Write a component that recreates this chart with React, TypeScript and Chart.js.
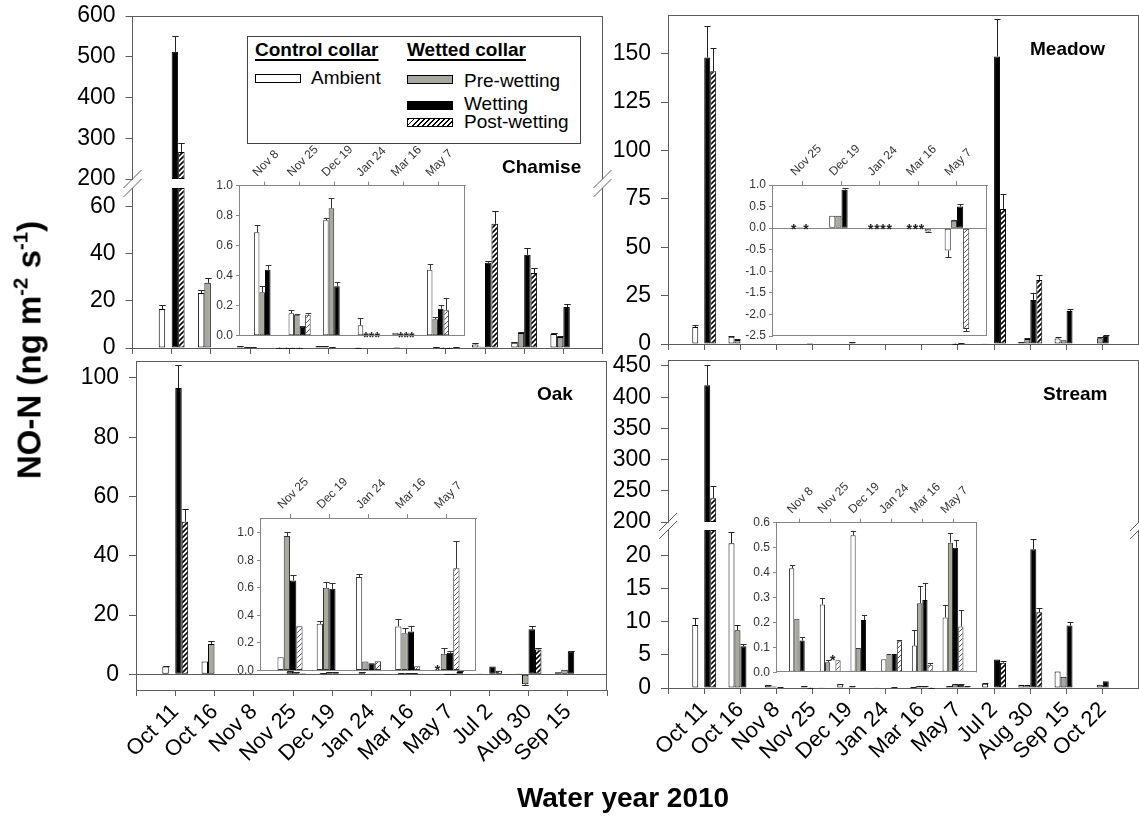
import React, { useEffect, useRef } from 'react';
import { Chart, registerables } from 'chart.js';

Chart.register(...registerables);

const FONT = "'Liberation Sans', Arial, Helvetica, sans-serif";
Chart.defaults.font.family = FONT;
Chart.defaults.color = '#000';

const AXIS = '#5c5c5c';
const INSET_AXIS = '#858585';
const PRE_GREY = '#a8a89e';

type Num = number | null;

// ---------------- sampling dates ----------------
const datesWY = ['Oct 11', 'Oct 16', 'Nov 8', 'Nov 25', 'Dec 19', 'Jan 24', 'Mar 16', 'May 7', 'Jul 2', 'Aug 30', 'Sep 15'];
const datesWYExt = [...datesWY, 'Oct 22'];

// ---------------- Chamise (ng m-2 s-1) ----------------
const chamiseAmbient: Num[] = [16.6, 23.4, 0.69, 0.15, 0.77, 0.07, 0.02, 0.44, 1.5, 2.2, 6.0];
const chamiseAmbientErr: Num[] = [1.7, 1.3, 0.05, 0.02, 0.015, 0.05, 0, 0.04, 0.6, 0.5, 0.3];
const chamisePre: Num[] = [null, 27.7, 0.29, 0.14, 0.85, null, null, 0.11, 0.5, 6.4, 4.7];
const chamisePreErr: Num[] = [null, 2.1, 0.04, 0.005, 0.07, null, null, 0.016, 0, 0.3, 0.3];
const chamiseWet: Num[] = [512, null, 0.44, 0.06, 0.33, null, null, 0.18, 36.2, 39.6, 17.4];
const chamiseWetErr: Num[] = [39, null, 0.03, 0.005, 0.03, null, null, 0.025, 0.7, 2.9, 1.1];
const chamisePost: Num[] = [266.5, null, null, 0.14, null, null, null, 0.17, 52.8, 31.9, null];
const chamisePostErr: Num[] = [21.5, null, null, 0.01, null, null, null, 0.08, 5.5, 2.1, null];
const chamiseUpperTicks = [200, 300, 400, 500, 600];
const chamiseLowerTicks = [0, 20, 40, 60];

// ---------------- Meadow ----------------
const meadowAmbient: Num[] = [8.8, 3.8, null, null, 0.29, null, null, -0.52, 0.15, 0.9, 2.9, null];
const meadowAmbientErr: Num[] = [0.9, 0.5, null, null, 0, null, null, 0.14, 0, 0.2, 0.5, null];
const meadowPre: Num[] = [null, 2.1, null, 0.02, 0.29, null, null, 0.17, null, 2.6, 1.9, 3.0];
const meadowPreErr: Num[] = [null, 0.3, null, 0, 0, null, null, 0.03, null, 0.3, 0, 0.5];
const meadowWet: Num[] = [148, null, null, null, 0.89, null, null, 0.5, 148.6, 22.8, 17.1, 4.2];
const meadowWetErr: Num[] = [16.5, null, null, null, 0.04, null, null, 0.07, 19.5, 3.4, 0.9, 0.3];
const meadowPost: Num[] = [140.9, null, null, null, null, null, -0.08, -2.34, 69.7, 33.1, null, null];
const meadowPostErr: Num[] = [12.1, null, null, null, null, null, 0.02, 0.04, 7.9, 2.4, null, null];
const meadowTicks = [0, 25, 50, 75, 100, 125, 150];

// ---------------- Oak ----------------
const oakAmbient: Num[] = [2.6, 4.3, null, 0.097, 0.339, 0.678, 0.32, null, 0.1, 0.1, 0.7];
const oakAmbientErr: Num[] = [0.3, 0, null, 0, 0.02, 0.02, 0.055, null, 0, 0, 0];
const oakPre: Num[] = [null, 10.2, null, 0.976, 0.6, 0.065, 0.271, 0.121, null, -3.4, 1.5];
const oakPreErr: Num[] = [null, 1.0, null, 0.03, 0.042, 0, 0.036, 0.044, null, 0.3, 0];
const oakWet: Num[] = [96.6, null, null, 0.654, 0.593, 0.053, 0.283, 0.128, 2.6, 15.2, 7.6];
const oakWetErr: Num[] = [7.9, null, null, 0.036, 0.041, 0, 0.037, 0.017, 0, 1.1, 0.2];
const oakPost: Num[] = [51.5, null, null, 0.322, null, 0.068, 0.031, 0.743, 1.2, 8.4, null];
const oakPostErr: Num[] = [4.1, null, null, 0, null, 0, 0, 0.2, 0, 0.4, null];
const oakTicks = [0, 20, 40, 60, 80, 100];

// ---------------- Stream ----------------
const streamAmbient: Num[] = [9.5, 21.8, 0.417, 0.272, 0.55, 0.052, 0.107, 0.22, 0.65, 0.45, 2.5, null];
const streamAmbientErr: Num[] = [1.0, 1.7, 0.014, 0.028, 0.017, 0, 0.063, 0.05, 0.1, 0, 0, null];
const streamPre: Num[] = [null, 8.7, 0.215, 0.04, 0.097, 0.073, 0.277, 0.52, null, 0.45, 1.7, 0.5];
const streamPreErr: Num[] = [null, 0.8, 0, 0.01, 0, 0, 0.07, 0.04, null, 0, 0, 0];
const streamWet: Num[] = [419, 6.3, 0.128, null, 0.21, 0.073, 0.29, 0.5, 4.3, 20.9, 9.4, 1.0];
const streamWetErr: Num[] = [33, 0.4, 0.013, null, 0.02, 0, 0.07, 0.032, 0, 1.5, 0.6, 0];
const streamPost: Num[] = [238, null, null, 0.048, null, 0.125, 0.03, 0.184, 3.8, 11.4, null, null];
const streamPostErr: Num[] = [19, null, null, 0, null, 0.005, 0.006, 0.066, 0.3, 0.7, null, null];
const streamUpperTicks = [200, 250, 300, 350, 400, 450];
const streamLowerTicks = [0, 5, 10, 15, 20];

// ---------------- insets (low-flux dates) ----------------
const chamiseInsetDates = ['Nov 8', 'Nov 25', 'Dec 19', 'Jan 24', 'Mar 16', 'May 7'];
const chamiseInAmbient: Num[] = [0.69, 0.15, 0.77, 0.07, 0.02, 0.44];
const chamiseInAmbientErr: Num[] = [0.05, 0.02, 0.015, 0.05, 0, 0.04];
const chamiseInPre: Num[] = [0.29, 0.14, 0.85, null, null, 0.11];
const chamiseInPreErr: Num[] = [0.04, 0.005, 0.07, null, null, 0.016];
const chamiseInWet: Num[] = [0.44, 0.06, 0.33, null, null, 0.18];
const chamiseInWetErr: Num[] = [0.03, 0.005, 0.03, null, null, 0.025];
const chamiseInPost: Num[] = [null, 0.14, null, null, null, 0.17];
const chamiseInPostErr: Num[] = [null, 0.01, null, null, null, 0.08];
const chamiseInBelowDetection = [[3, 1, 0], [3, 2, 0], [3, 3, 0], [4, 1, 0], [4, 2, 0], [4, 3, 0]];
const chamiseInTicks = [0, 0.2, 0.4, 0.6, 0.8, 1.0];

const meadowInsetDates = ['Nov 25', 'Dec 19', 'Jan 24', 'Mar 16', 'May 7'];
const meadowInAmbient: Num[] = [null, 0.29, null, null, -0.52];
const meadowInAmbientErr: Num[] = [null, 0, null, null, 0.14];
const meadowInPre: Num[] = [0.02, 0.29, null, null, 0.17];
const meadowInPreErr: Num[] = [null, 0, null, null, 0.03];
const meadowInWet: Num[] = [null, 0.89, null, null, 0.5];
const meadowInWetErr: Num[] = [null, 0.04, null, null, 0.07];
const meadowInPost: Num[] = [null, null, null, -0.08, -2.34];
const meadowInPostErr: Num[] = [null, null, null, 0.02, 0.04];
const meadowInBelowDetection = [[0, 0, 0], [0, 2, 0], [2, 0, 0], [2, 1, 0], [2, 2, 0], [2, 3, 0], [3, 0, 0], [3, 1, 0], [3, 2, 0]];
const meadowInTicks = [-2.5, -2, -1.5, -1, -0.5, 0, 0.5, 1];

const oakInsetDates = ['Nov 25', 'Dec 19', 'Jan 24', 'Mar 16', 'May 7'];
const oakInAmbient: Num[] = [0.097, 0.339, 0.678, 0.32, null];
const oakInAmbientErr: Num[] = [0, 0.02, 0.02, 0.055, null];
const oakInPre: Num[] = [0.976, 0.6, 0.065, 0.271, 0.121];
const oakInPreErr: Num[] = [0.03, 0.042, 0, 0.036, 0.044];
const oakInWet: Num[] = [0.654, 0.593, 0.053, 0.283, 0.128];
const oakInWetErr: Num[] = [0.036, 0.041, 0, 0.037, 0.017];
const oakInPost: Num[] = [0.322, null, 0.068, 0.031, 0.743];
const oakInPostErr: Num[] = [0, null, 0, 0, 0.2];
const oakInBelowDetection = [[4, 0, 0.015]];
const oakInTicks = [0, 0.2, 0.4, 0.6, 0.8, 1.0];

const streamInsetDates = ['Nov 8', 'Nov 25', 'Dec 19', 'Jan 24', 'Mar 16', 'May 7'];
const streamInAmbient: Num[] = [0.417, 0.272, 0.55, 0.052, 0.107, 0.22];
const streamInAmbientErr: Num[] = [0.014, 0.028, 0.017, 0, 0.063, 0.05];
const streamInPre: Num[] = [0.215, 0.04, 0.097, 0.073, 0.277, 0.52];
const streamInPreErr: Num[] = [0, 0.01, 0, 0, 0.07, 0.04];
const streamInWet: Num[] = [0.128, null, 0.21, 0.073, 0.29, 0.5];
const streamInWetErr: Num[] = [0.013, null, 0.02, 0, 0.07, 0.032];
const streamInPost: Num[] = [null, 0.048, null, 0.125, 0.03, 0.184];
const streamInPostErr: Num[] = [null, 0, null, 0.005, 0.006, 0.066];
const streamInBelowDetection = [[1, 2, 0.055]];
const streamInTicks = [0, 0.1, 0.2, 0.3, 0.4, 0.5, 0.6];

const SERIES = ['Ambient', 'Pre-wetting', 'Wetting', 'Post-wetting'];
const STACKS = ['amb', 'pre', 'wet', 'post'];

interface Seg { min: number; max: number; ticks: number[]; px?: number }
interface Panel {
  cats: string[];
  xMin: number;
  xMax: number;
  edgeTicks: boolean;
  series: [Num[], Num[]][];
  lower: Seg;
  upper?: Seg;
  gapPx?: number;
  yWidth: number;
  xHeight: number;
  pad: { top: number; right: number; bottom: number };
  inset: boolean;
  showX: boolean;
  zeroLine?: boolean;
  frame: { top?: boolean; right?: boolean; bottom?: boolean };
  stars?: number[][];
  catPct: number;
}

function range(a: number, b: number) {
  const out: number[] = [];
  for (let i = a; i <= b; i++) out.push(i);
  return out;
}

function hatchPattern(ctx: CanvasRenderingContext2D, color: string, lw: number, size: number) {
  const tile = document.createElement('canvas');
  tile.width = size;
  tile.height = size;
  const g = tile.getContext('2d')!;
  g.fillStyle = '#fff';
  g.fillRect(0, 0, size, size);
  g.strokeStyle = color;
  g.lineWidth = lw;
  g.beginPath();
  g.moveTo(0, size);
  g.lineTo(size, 0);
  g.moveTo(-1, 1);
  g.lineTo(1, -1);
  g.moveTo(size - 1, size + 1);
  g.lineTo(size + 1, size - 1);
  g.stroke();
  return ctx.createPattern(tile, 'repeat')!;
}

// error bars, "below detection" asterisks, frame lines and axis breaks
function makeDecor(p: Panel, axisColor: string) {
  const starSize = 14;
  return {
    id: 'decor',
    beforeDraw(chart: any) {
      if (!p.inset) return;
      const { ctx, chartArea: a } = chart;
      ctx.save();
      ctx.fillStyle = '#fff';
      ctx.fillRect(a.left, a.top, a.right - a.left, a.bottom - a.top);
      ctx.restore();
    },
    afterDatasetsDraw(chart: any) {
      const { ctx } = chart;
      ctx.save();
      ctx.strokeStyle = p.inset ? '#333' : '#222';
      ctx.lineWidth = 1;
      chart.data.datasets.forEach((ds: any, di: number) => {
        const meta = chart.getDatasetMeta(di);
        const ys = chart.scales[meta.yAxisID];
        ds.vals.forEach((v: Num, i: number) => {
          const e = ds.errs[i];
          if (v == null || !e) return;
          if (v > ys.max || v < ys.min) return;
          if (meta.yAxisID === 'yTop' && v <= ys.min) return;
          const el = meta.data[i];
          if (!el) return;
          const y0 = ys.getPixelForValue(v);
          const y1 = Math.round(ys.getPixelForValue(v >= 0 ? v + e : v - e)) + 0.5;
          const x = Math.round(el.x) + 0.5;
          const h = el.width / 2;
          ctx.beginPath();
          ctx.moveTo(x, y0);
          ctx.lineTo(x, y1);
          ctx.moveTo(x - h, y1);
          ctx.lineTo(x + h, y1);
          ctx.stroke();
        });
      });
      ctx.fillStyle = '#222';
      ctx.textAlign = 'center';
      ctx.textBaseline = 'alphabetic';
      ctx.font = `bold ${starSize}px ${FONT}`;
      (p.stars || []).forEach(([c, s, lvl]) => {
        const meta = chart.getDatasetMeta(s);
        const el = meta.data[c];
        const ys = chart.scales[meta.yAxisID];
        const y = ys.getPixelForValue(lvl || 0);
        ctx.fillText('*', el.x, y + 0.45 * starSize);
      });
      ctx.restore();
    },
    afterDraw(chart: any) {
      const { ctx, chartArea: a } = chart;
      ctx.save();
      ctx.strokeStyle = axisColor;
      ctx.lineWidth = 1;
      const gap = p.upper ? [chart.scales.yTop.bottom, chart.scales.yBot.top] : null;
      ctx.beginPath();
      if (p.frame.top) {
        ctx.moveTo(a.left, Math.round(a.top) + 0.5);
        ctx.lineTo(a.right, Math.round(a.top) + 0.5);
      }
      if (p.frame.bottom) {
        ctx.moveTo(a.left, Math.round(a.bottom) - 0.5);
        ctx.lineTo(a.right, Math.round(a.bottom) - 0.5);
      }
      if (p.frame.right) {
        const x = Math.round(a.right) - 0.5;
        if (gap) {
          ctx.moveTo(x, a.top);
          ctx.lineTo(x, gap[0]);
          ctx.moveTo(x, gap[1]);
          ctx.lineTo(x, a.bottom);
        } else {
          ctx.moveTo(x, a.top);
          ctx.lineTo(x, a.bottom);
        }
      }
      ctx.stroke();
      if (gap) {
        ctx.beginPath();
        [a.left, a.right].forEach((x: number) =>
          gap.forEach((y: number) => {
            ctx.moveTo(x - 9, y + 9);
            ctx.lineTo(x + 9, y - 9);
          })
        );
        ctx.stroke();
      }
      ctx.restore();
    },
  };
}

function buildConfig(p: Panel, ctx: CanvasRenderingContext2D): any {
  const axisColor = p.inset ? INSET_AXIS : AXIS;
  const tickColor = p.inset ? '#333' : '#000';
  const yFont = { size: p.inset ? 12 : 23 };
  const xFont = { size: p.inset ? 12 : 22 };
  const post = hatchPattern(ctx, p.inset ? '#555' : '#000', p.inset ? 1 : 1.6, 5);
  const fills = ['#fff', PRE_GREY, '#000', post];
  const edge = p.inset ? '#333' : '#000';
  const fmt = (v: number) => (p.inset ? Number(v).toFixed(1) : String(v));

  const datasets: any[] = [];
  p.series.forEach(([vals, errs], k) => {
    const base = {
      type: 'bar',
      label: SERIES[k],
      vals,
      errs,
      backgroundColor: fills[k],
      borderColor: k === 2 ? '#000' : edge,
      borderWidth: 1,
      borderSkipped: false,
      categoryPercentage: p.catPct,
      barPercentage: 1,
      stack: STACKS[k],
    };
    if (p.upper) {
      const lo = p.lower.max;
      const hi = p.upper.min;
      datasets.push({
        ...base,
        yAxisID: 'yBot',
        data: vals.map((v, i) => ({ x: i + 1, y: v == null ? null : [0, Math.min(v, lo)] })),
      });
      datasets.push({
        ...base,
        yAxisID: 'yTop',
        data: vals.map((v, i) => ({ x: i + 1, y: v != null && v > hi ? [hi, v] : null })),
      });
    } else {
      datasets.push({ ...base, yAxisID: 'y', data: vals.map((v, i) => ({ x: i + 1, y: v })) });
    }
  });

  const yScale = (seg: Seg, extra: any = {}) => ({
    type: 'linear',
    position: 'left',
    min: seg.min,
    max: seg.max,
    bounds: 'data',
    stacked: false,
    afterBuildTicks: (s: any) => {
      s.ticks = seg.ticks.map((v) => ({ value: v }));
    },
    afterFit: (s: any) => {
      s.width = p.yWidth;
      s.paddingTop = 0;
      s.paddingBottom = 0;
    },
    grid: {
      drawOnChartArea: !!p.zeroLine,
      drawTicks: true,
      tickLength: p.inset ? 3 : 7,
      lineWidth: 1,
      color: (c: any) => (p.zeroLine && c.tick && c.tick.value === 0 ? axisColor : 'rgba(0,0,0,0)'),
      tickColor: axisColor,
    },
    border: { display: true, color: axisColor, width: 1 },
    ticks: {
      autoSkip: false,
      color: tickColor,
      font: yFont,
      padding: p.inset ? 3 : 10,
      callback: (v: number) => fmt(v),
    },
    ...extra,
  });

  const n = p.cats.length;
  const xTicks = p.edgeTicks ? range(0, n + 1) : range(1, n);
  const scales: any = {
    x: {
      type: 'linear',
      position: p.inset ? 'top' : 'bottom',
      min: p.xMin,
      max: p.xMax,
      bounds: 'data',
      offset: false,
      afterBuildTicks: (s: any) => {
        s.ticks = xTicks.map((v) => ({ value: v }));
      },
      afterFit: (s: any) => {
        s.height = p.xHeight;
        s.paddingLeft = 0;
        s.paddingRight = 0;
      },
      grid: {
        offset: false,
        drawOnChartArea: false,
        drawTicks: true,
        tickLength: p.inset ? 4 : 6,
        color: axisColor,
        tickColor: axisColor,
      },
      border: { display: true, color: axisColor },
      ticks: {
        display: p.showX,
        autoSkip: false,
        minRotation: 45,
        maxRotation: 45,
        color: tickColor,
        font: xFont,
        padding: p.inset ? 2 : 3,
        callback: (v: number) => p.cats[v - 1] ?? '',
      },
    },
  };
  if (p.upper) {
    scales.yTop = yScale(p.upper, { stack: 'v', stackWeight: p.upper.px, weight: 3 });
    scales.yGap = {
      type: 'linear',
      position: 'left',
      stack: 'v',
      stackWeight: p.gapPx,
      weight: 2,
      min: 0,
      max: 1,
      grid: { display: false },
      border: { display: false },
      ticks: { display: false },
      afterFit: (s: any) => {
        s.width = p.yWidth;
        s.paddingTop = 0;
        s.paddingBottom = 0;
      },
    };
    scales.yBot = yScale(p.lower, { stack: 'v', stackWeight: p.lower.px, weight: 1 });
  } else {
    scales.y = yScale(p.lower);
  }

  return {
    type: 'bar',
    data: { datasets },
    plugins: [makeDecor(p, axisColor)],
    options: {
      responsive: false,
      maintainAspectRatio: false,
      animation: false,
      devicePixelRatio: 1,
      events: [],
      layout: { padding: { left: 0, top: p.pad.top, right: p.pad.right, bottom: p.pad.bottom } },
      plugins: { legend: { display: false }, tooltip: { enabled: false } },
      scales,
    },
  };
}

// ---------------- panel definitions ----------------
const chamisePanel: Panel = {
  cats: datesWY, xMin: 0, xMax: 12, edgeTicks: true,
  series: [[chamiseAmbient, chamiseAmbientErr], [chamisePre, chamisePreErr], [chamiseWet, chamiseWetErr], [chamisePost, chamisePostErr]],
  upper: { min: 200, max: 600, ticks: chamiseUpperTicks, px: 163 },
  gapPx: 9,
  lower: { min: 0, max: 68, ticks: chamiseLowerTicks, px: 160 },
  yWidth: 132.5, xHeight: 14, pad: { top: 16, right: 9.5, bottom: 0 },
  inset: false, showX: false, frame: { top: true, right: true }, catPct: 0.66,
};
const meadowPanel: Panel = {
  cats: datesWYExt, xMin: 0, xMax: 13, edgeTicks: true,
  series: [[meadowAmbient, meadowAmbientErr], [meadowPre, meadowPreErr], [meadowWet, meadowWetErr], [meadowPost, meadowPostErr]],
  lower: { min: 0, max: 170, ticks: meadowTicks },
  yWidth: 108, xHeight: 16, pad: { top: 15, right: 0, bottom: 0 },
  inset: false, showX: false, frame: { top: true, right: true }, catPct: 0.66,
};
const oakPanel: Panel = {
  cats: datesWY, xMin: 0, xMax: 12, edgeTicks: true,
  series: [[oakAmbient, oakAmbientErr], [oakPre, oakPreErr], [oakWet, oakWetErr], [oakPost, oakPostErr]],
  lower: { min: -5.3, max: 105.7, ticks: oakTicks },
  yWidth: 136, xHeight: 100, pad: { top: 11, right: 13, bottom: 0 },
  inset: false, showX: true, zeroLine: true, frame: { top: true, right: true }, catPct: 0.66,
};
const streamPanel: Panel = {
  cats: datesWYExt, xMin: 0, xMax: 13, edgeTicks: true,
  series: [[streamAmbient, streamAmbientErr], [streamPre, streamPreErr], [streamWet, streamWetErr], [streamPost, streamPostErr]],
  upper: { min: 200, max: 459.6, ticks: streamUpperTicks, px: 162 },
  gapPx: 8,
  lower: { min: 0, max: 23.8, ticks: streamLowerTicks, px: 158 },
  yWidth: 108, xHeight: 102, pad: { top: 10, right: 0, bottom: 0 },
  inset: false, showX: true, frame: { top: true, right: true }, catPct: 0.66,
};

const chamiseInset: Panel = {
  cats: chamiseInsetDates, xMin: 0.249, xMax: 6.78, edgeTicks: false,
  series: [[chamiseInAmbient, chamiseInAmbientErr], [chamiseInPre, chamiseInPreErr], [chamiseInWet, chamiseInWetErr], [chamiseInPost, chamiseInPostErr]],
  lower: { min: 0, max: 1.0, ticks: chamiseInTicks },
  yWidth: 40, xHeight: 45.7, pad: { top: 0, right: 9, bottom: 4.3 },
  inset: true, showX: true, frame: { right: true, bottom: true }, stars: chamiseInBelowDetection, catPct: 0.64,
};
const meadowInset: Panel = {
  cats: meadowInsetDates, xMin: 0.195, xMax: 5.78, edgeTicks: false,
  series: [[meadowInAmbient, meadowInAmbientErr], [meadowInPre, meadowInPreErr], [meadowInWet, meadowInWetErr], [meadowInPost, meadowInPostErr]],
  lower: { min: -2.5, max: 1.0, ticks: meadowInTicks },
  yWidth: 40, xHeight: 45, pad: { top: 0, right: 10, bottom: 4 },
  inset: true, showX: true, zeroLine: true, frame: { right: true, bottom: true }, stars: meadowInBelowDetection, catPct: 0.64,
};
const oakInset: Panel = {
  cats: oakInsetDates, xMin: 0.235, xMax: 5.74, edgeTicks: false,
  series: [[oakInAmbient, oakInAmbientErr], [oakInPre, oakInPreErr], [oakInWet, oakInWetErr], [oakInPost, oakInPostErr]],
  lower: { min: 0, max: 1.107, ticks: oakInTicks },
  yWidth: 40, xHeight: 48, pad: { top: 0, right: 10, bottom: 4.5 },
  inset: true, showX: true, frame: { right: true, bottom: true }, stars: oakInBelowDetection, catPct: 0.64,
};
const streamInset: Panel = {
  cats: streamInsetDates, xMin: 0.235, xMax: 6.765, edgeTicks: false,
  series: [[streamInAmbient, streamInAmbientErr], [streamInPre, streamInPreErr], [streamInWet, streamInWetErr], [streamInPost, streamInPostErr]],
  lower: { min: 0, max: 0.6, ticks: streamInTicks },
  yWidth: 40, xHeight: 47.7, pad: { top: 0, right: 9.5, bottom: 4.7 },
  inset: true, showX: true, frame: { right: true, bottom: true }, stars: streamInBelowDetection, catPct: 0.68,
};

function PanelCanvas({ left, top, width, height, panel }: { left: number; top: number; width: number; height: number; panel: Panel }) {
  const ref = useRef<HTMLCanvasElement>(null);
  useEffect(() => {
    const canvas = ref.current!;
    const ctx = canvas.getContext('2d')!;
    const chart = new Chart(ctx, buildConfig(panel, ctx));
    return () => chart.destroy();
  }, [panel]);
  return <canvas ref={ref} width={width} height={height} style={{ position: 'absolute', left, top, width, height }} />;
}

// text placed by its baseline
function Txt({ x, y, size, bold, underline, children }: any) {
  return (
    <div
      style={{
        position: 'absolute',
        left: x,
        top: y - 0.8465 * size,
        fontFamily: FONT,
        fontSize: size,
        lineHeight: `${size}px`,
        fontWeight: bold ? 700 : 400,
        whiteSpace: 'nowrap',
        color: '#000',
        textDecoration: underline ? 'underline' : 'none',
        textUnderlineOffset: '3px',
        textDecorationThickness: '1.5px',
      }}
    >
      {children}
    </div>
  );
}

const HATCH_CSS = 'repeating-linear-gradient(135deg, #000 0px, #000 1.3px, #fff 1.3px, #fff 3.6px)';

function Swatch({ x, y, bg }: { x: number; y: number; bg: string }) {
  return (
    <div style={{ position: 'absolute', left: x, top: y, width: 46, height: 9, border: '1px solid #000', boxSizing: 'border-box', background: bg }} />
  );
}

function Legend() {
  return (
    <>
      <div style={{ position: 'absolute', left: 247, top: 36, width: 334, height: 108, border: '1px solid #444', boxSizing: 'border-box', background: '#fff' }} />
      <Txt x={255} y={56} size={19} bold underline>Control collar</Txt>
      <Txt x={407} y={56} size={19} bold underline>Wetted collar</Txt>
      <Swatch x={255} y={74} bg="#fff" />
      <Txt x={311} y={84} size={19}>Ambient</Txt>
      <Swatch x={407} y={75} bg={PRE_GREY} />
      <Txt x={464} y={87} size={19}>Pre-wetting</Txt>
      <Swatch x={407} y={101} bg="#000" />
      <Txt x={464} y={110} size={19}>Wetting</Txt>
      <Swatch x={407} y={118} bg={HATCH_CSS} />
      <Txt x={464} y={128} size={19}>Post-wetting</Txt>
    </>
  );
}

export default function App() {
  const sup: React.CSSProperties = { fontSize: '0.62em', position: 'relative', top: '-0.62em' };
  return (
    <div style={{ position: 'absolute', left: 0, top: 0, width: 1139, height: 817, background: '#fff', overflow: 'hidden', fontFamily: FONT }}>
      <PanelCanvas left={0} top={0} width={612} height={362} panel={chamisePanel} />
      <PanelCanvas left={560} top={0} width={579} height={360} panel={meadowPanel} />
      <PanelCanvas left={0} top={350} width={620} height={440} panel={oakPanel} />
      <PanelCanvas left={560} top={350} width={579} height={440} panel={streamPanel} />

      <PanelCanvas left={199} top={140} width={275} height={200} panel={chamiseInset} />
      <PanelCanvas left={732} top={140} width={265} height={200} panel={meadowInset} />
      <PanelCanvas left={220} top={470} width={266} height={205} panel={oakInset} />
      <PanelCanvas left={735.5} top={475} width={250} height={202} panel={streamInset} />

      <Legend />

      <Txt x={502} y={173} size={19} bold>Chamise</Txt>
      <Txt x={1030} y={55} size={19} bold>Meadow</Txt>
      <Txt x={537} y={400} size={19} bold>Oak</Txt>
      <Txt x={1043} y={400} size={19} bold>Stream</Txt>

      <div
        style={{
          position: 'absolute',
          left: 30.5,
          top: 350,
          transform: 'translate(-50%, -50%) rotate(-90deg)',
          whiteSpace: 'nowrap',
          fontFamily: FONT,
          fontWeight: 700,
          fontSize: 33,
          lineHeight: '33px',
        }}
      >
        NO-N (ng m<span style={sup}>-2</span> s<span style={sup}>-1</span>)
      </div>
      <div
        style={{
          position: 'absolute',
          left: 623,
          top: 808 - 0.8465 * 28,
          transform: 'translateX(-50%)',
          whiteSpace: 'nowrap',
          fontFamily: FONT,
          fontWeight: 700,
          fontSize: 28,
          lineHeight: '28px',
        }}
      >
        Water year 2010
      </div>
    </div>
  );
}
